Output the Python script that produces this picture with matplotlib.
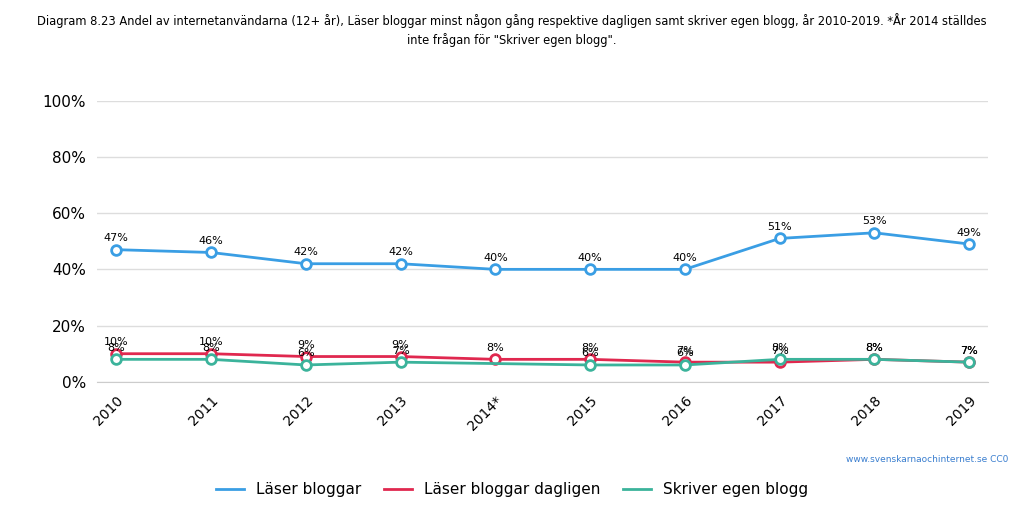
import numpy as np
import matplotlib.pyplot as plt

years = ["2010", "2011", "2012", "2013", "2014*", "2015", "2016", "2017", "2018", "2019"]
laser = [47, 46, 42, 42, 40, 40, 40, 51, 53, 49]
laser_dagligen = [10, 10, 9, 9, 8, 8, 7, 7, 8, 7]
skriver = [8, 8, 6, 7, np.nan, 6, 6, 8, 8, 7]

series = [
    ("Läser bloggar", laser, "#3a9ee4"),
    ("Läser bloggar dagligen", laser_dagligen, "#e0284f"),
    ("Skriver egen blogg", skriver, "#3bb39b"),
]

fig = plt.figure(figsize=(10.24, 5.16), dpi=100)
ax = fig.add_axes([0.095, 0.26, 0.87, 0.545])
x = np.arange(len(years))

for name, vals, col in series:
    v = np.array(vals, dtype=float)
    m = ~np.isnan(v)
    ax.plot(x[m], v[m], color=col, lw=2, marker="o", ms=7, mfc="white",
            mec=col, mew=2, label=name)
    for xi, yi in zip(x[m], v[m]):
        ax.text(xi, yi + 2.3, f"{int(yi)}%", ha="center", va="bottom", fontsize=8)

ax.set_ylim(0, 100)
ax.set_xlim(-0.2, 9.2)
ax.set_yticks(range(0, 101, 20))
ax.set_yticklabels([f"{t}%" for t in range(0, 101, 20)], fontsize=11)
ax.set_xticks(x)
ax.set_xticklabels(years, rotation=45, ha="right", rotation_mode="anchor", fontsize=10)
ax.grid(axis="y", color="#dddddd", lw=1)
ax.tick_params(length=0, pad=8)
for s in ax.spines.values():
    s.set_visible(False)
ax.spines["bottom"].set_visible(True)
ax.spines["bottom"].set_color("#cccccc")

fig.text(0.5, 0.975, "Diagram 8.23 Andel av internetanvändarna (12+ år), Läser bloggar minst någon gång respektive dagligen samt skriver egen blogg, år 2010-2019. *År 2014 ställdes\ninte frågan för \"Skriver egen blogg\".",
         ha="center", va="top", fontsize=8.3, linespacing=1.5)
fig.text(0.985, 0.105, "www.svenskarnaochinternet.se CC0", ha="right", fontsize=6.5, color="#3a7ecf")
fig.legend(loc="lower center", bbox_to_anchor=(0.5, 0.01), ncol=3, frameon=False,
           fontsize=11, handlelength=1.8, markerscale=0, columnspacing=1.5)
fig.savefig("out.png")
